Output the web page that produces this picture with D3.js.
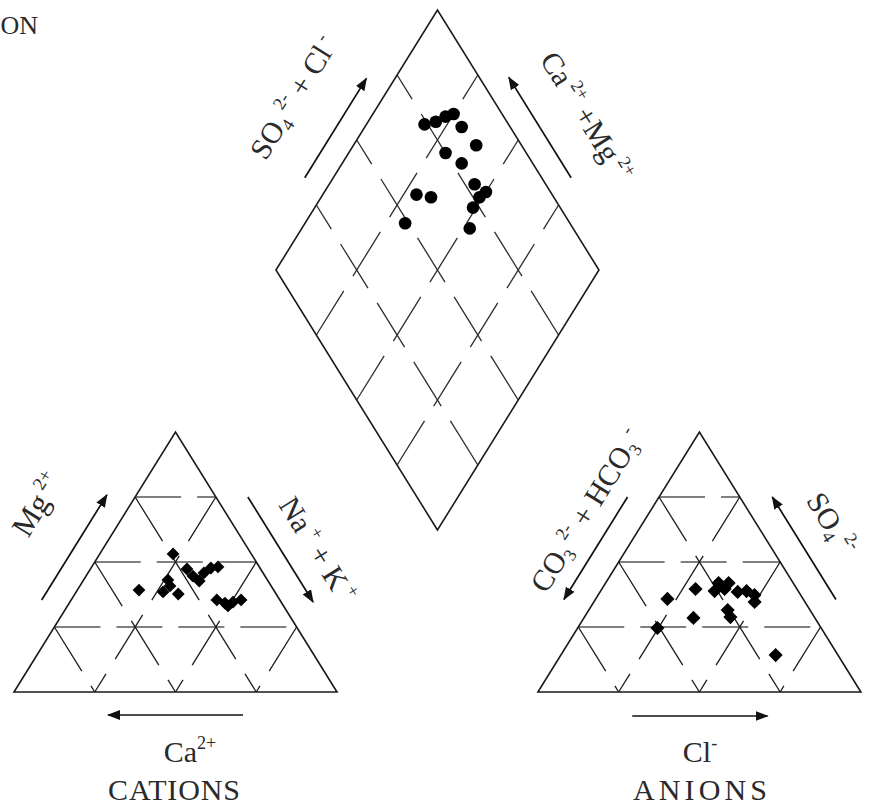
<!DOCTYPE html>
<html>
<head>
<meta charset="utf-8">
<script src="https://cdn.jsdelivr.net/npm/d3@7"></script>
<style>
  body { margin: 0; background: #fff; }
  svg { display: block; }
  text { font-family: "Liberation Serif", "Times New Roman", serif; fill: #2a2a2a; }
</style>
</head>
<body>
<svg class="chart"></svg>
<script>

// grid levels (%) used on both triangles and the diamond
var gridLevels = [25, 50, 75];

// cation triangle: Mg2+ and Na+ + K+ in meq % (Ca2+ is the rest)
var cationMg  = [53.1, 39.2, 38.5, 40.8, 37.7, 43.1, 47.3, 44.6, 42.7, 47.7, 48.1, 35.4, 34.2, 34.6, 35.4, 33.1, 45.8];
var cationNaK = [22.7, 19.1, 26.9, 27.9, 32.0, 26.1, 29.9, 33.1, 36.0, 37.1, 39.1, 45.1, 48.2, 50.5, 52.6, 49.7, 35.9];

// anion triangle: SO4 2- and Cl- in meq % (CO3 2- + HCO3- is the rest)
var anionSO4 = [35.8, 39.6, 28.5, 24.6, 41.9, 39.6, 38.8, 38.5, 38.8, 37.3, 34.6, 31.5, 28.8, 14.2, 41.9];
var anionCl  = [22.2, 29.0, 33.9, 24.7, 35.0, 38.0, 35.3, 42.6, 45.2, 48.4, 49.8, 43.0, 45.2, 66.5, 38.1];

// diamond: Ca2+ + Mg2+ and SO4 2- + Cl- in meq %
var diamondCaMg  = [82, 79, 77, 75, 70, 62, 70, 63, 55, 50, 51, 51, 48, 71, 66, 69];
var diamondSO4Cl = [74, 78, 82, 85, 85, 86, 75, 78, 78, 80, 77, 73, 68, 58, 62, 49];

var width = 872,
    height = 808,
    anionOffset = 162.2,
    diamondMidX = 131.1,
    diamondBase = 62.3;

var x = d3.scaleLinear().domain([0, 100]).range([14, 337]),
    y = d3.scaleLinear().domain([0, 100]).range([692, 432]);

var svg = d3.select(".chart")
    .attr("width", width)
    .attr("height", height);

var line = d3.line();

function cationPt(mg, nak) { return [x(nak + mg / 2), y(mg)]; }
function anionPt(so4, cl) { return [x(anionOffset + cl + so4 / 2), y(so4)]; }
function diamondPt(camg, so4cl) {
    return [x(diamondMidX - camg / 2 + so4cl / 2), y(diamondBase + camg + so4cl)];
}
function unit(u, v) { return [x(u), y(v)]; }

svg.append("defs").append("marker")
    .attr("id", "head")
    .attr("viewBox", "0 0 13 10")
    .attr("refX", 12)
    .attr("refY", 5)
    .attr("markerWidth", 13)
    .attr("markerHeight", 10)
    .attr("markerUnits", "userSpaceOnUse")
    .attr("orient", "auto")
    .append("path")
    .attr("d", "M0,0 L13,5 L0,10 Z")
    .attr("fill", "#111");

// triangles
function drawTriangle(ox) {
    var g = svg.append("g");

    gridLevels.forEach(function(h) {
        g.append("path")
            .attr("d", line([unit(ox + h / 2, h), unit(ox + 100 - h / 2, h)]))
            .attr("fill", "none")
            .attr("stroke", "#808080")
            .attr("stroke-width", 2.2)
            .attr("stroke-dasharray", "46,16");
        g.append("path")
            .attr("d", line([unit(ox + h / 2, h), unit(ox + h, 0)]))
            .attr("class", "diag");
        g.append("path")
            .attr("d", line([unit(ox + 100 - h / 2, h), unit(ox + 100 - h, 0)]))
            .attr("class", "diag");
    });

    g.selectAll(".diag")
        .attr("fill", "none")
        .attr("stroke", "#1e1e1e")
        .attr("stroke-width", 1.3)
        .attr("stroke-dasharray", "52,17.4");

    g.append("path")
        .attr("d", line([unit(ox, 0), unit(ox + 100, 0), unit(ox + 50, 100)]) + "Z")
        .attr("fill", "none")
        .attr("stroke", "#1a1a1a")
        .attr("stroke-width", 1.6);
}

drawTriangle(0);
drawTriangle(anionOffset);

// diamond
var dg = svg.append("g");
gridLevels.forEach(function(k) {
    dg.append("path").attr("d", line([diamondPt(k, 0), diamondPt(k, 100)]));
    dg.append("path").attr("d", line([diamondPt(0, k), diamondPt(100, k)]));
});
dg.selectAll("path")
    .attr("fill", "none")
    .attr("stroke", "#2e2e2e")
    .attr("stroke-width", 1.3)
    .attr("stroke-dasharray", "52,17.4");

dg.append("path")
    .attr("d", line([diamondPt(0, 0), diamondPt(100, 0), diamondPt(100, 100), diamondPt(0, 100)]) + "Z")
    .attr("fill", "none")
    .attr("stroke", "#1a1a1a")
    .attr("stroke-width", 1.6);

// sample points
svg.append("g").selectAll("path")
    .data(cationMg)
    .enter().append("path")
    .attr("d", d3.symbol().type(d3.symbolSquare).size(82))
    .attr("transform", function(d, i) {
        var p = cationPt(d, cationNaK[i]);
        return "translate(" + p[0] + "," + p[1] + ") rotate(45)";
    })
    .attr("fill", "#000");

svg.append("g").selectAll("path")
    .data(anionSO4)
    .enter().append("path")
    .attr("d", d3.symbol().type(d3.symbolSquare).size(100))
    .attr("transform", function(d, i) {
        var p = anionPt(d, anionCl[i]);
        return "translate(" + p[0] + "," + p[1] + ") rotate(45)";
    })
    .attr("fill", "#000");

svg.append("g").selectAll("circle")
    .data(diamondCaMg)
    .enter().append("circle")
    .attr("cx", function(d, i) { return diamondPt(d, diamondSO4Cl[i])[0]; })
    .attr("cy", function(d, i) { return diamondPt(d, diamondSO4Cl[i])[1]; })
    .attr("r", 6.3)
    .attr("fill", "#000");

// arrows running beside an edge
function edgeArrow(a, b, t0, t1, dx, dy) {
    var p0 = [a[0] + (b[0] - a[0]) * t0 + dx, a[1] + (b[1] - a[1]) * t0 + dy],
        p1 = [a[0] + (b[0] - a[0]) * t1 + dx, a[1] + (b[1] - a[1]) * t1 + dy];
    svg.append("path")
        .attr("d", line([p0, p1]))
        .attr("stroke", "#111")
        .attr("stroke-width", 1.7)
        .attr("marker-end", "url(#head)");
}

edgeArrow(unit(0, 0), unit(50, 100), 0.354, 0.758, -29.5, 0);
edgeArrow(unit(50, 100), unit(100, 0), 0.25, 0.654, 32, 0);
edgeArrow(unit(100, 0), unit(0, 0), 0.291, 0.709, 0, 23);

edgeArrow(unit(anionOffset + 50, 100), unit(anionOffset, 0), 0.25, 0.644, -31.5, 0);
edgeArrow(unit(anionOffset + 100, 0), unit(anionOffset + 50, 100), 0.356, 0.75, 32.5, 0);
edgeArrow(unit(anionOffset, 0), unit(anionOffset + 100, 0), 0.292, 0.711, 0, 24);

edgeArrow(diamondPt(100, 0), diamondPt(100, 100), 0.355, 0.737, -28.5, 0);
edgeArrow(diamondPt(0, 100), diamondPt(100, 100), 0.355, 0.741, 29.5, 0);

// labels: each part is [text, shift] where shift is "sup", "sub" or ""
function label(parts, cx, cy, angle, size) {
    var t = svg.append("text")
        .attr("transform", "translate(" + cx + "," + cy + ") rotate(" + angle + ")")
        .attr("text-anchor", "middle")
        .attr("font-size", size);
    var offset = 0;
    parts.forEach(function(p) {
        var target = p[1] === "sup" ? -size * 0.42 : p[1] === "sub" ? size * 0.18 : 0;
        t.append("tspan")
            .attr("dy", target - offset)
            .attr("font-size", p[1] ? size * 0.6 : size)
            .text(p[0]);
        offset = target;
    });
    return t;
}

label([["Mg", ""], [" 2+", "sup"]], 46, 510, -58.2, 31);
label([["Na", ""], [" +", "sup"], [" + K", ""], [" +", "sup"]], 309, 555, 58.2, 30);
label([["Ca", ""], ["2+", "sup"]], 190, 762, 0, 30);
label([["CATIONS", ""]], 174, 800, 0, 30).attr("textLength", 132).attr("lengthAdjust", "spacing");

label([["CO", ""], ["3", "sub"], [" 2-", "sup"], [" + HCO", ""], ["3", "sub"], [" -", "sup"]], 595, 516, -58.2, 30);
label([["SO", ""], ["4", "sub"], [" 2-", "sup"]], 823, 529, 58.2, 30);
label([["Cl", ""], ["-", "sup"]], 700, 762, 0, 30);
label([["ANIONS", ""]], 700, 800, 0, 30).attr("textLength", 134).attr("lengthAdjust", "spacing");

label([["SO", ""], ["4", "sub"], [" 2-", "sup"], [" + Cl", ""], [" -", "sup"]], 302, 103, -58.2, 30);
label([["Ca", ""], [" 2+", "sup"], [" +Mg", ""], [" 2+", "sup"]], 578, 122, 58.2, 30);

svg.append("text")
    .attr("x", 38)
    .attr("y", 34)
    .attr("text-anchor", "end")
    .attr("font-size", 26)
    .text("ON");

</script>
</body>
</html>
